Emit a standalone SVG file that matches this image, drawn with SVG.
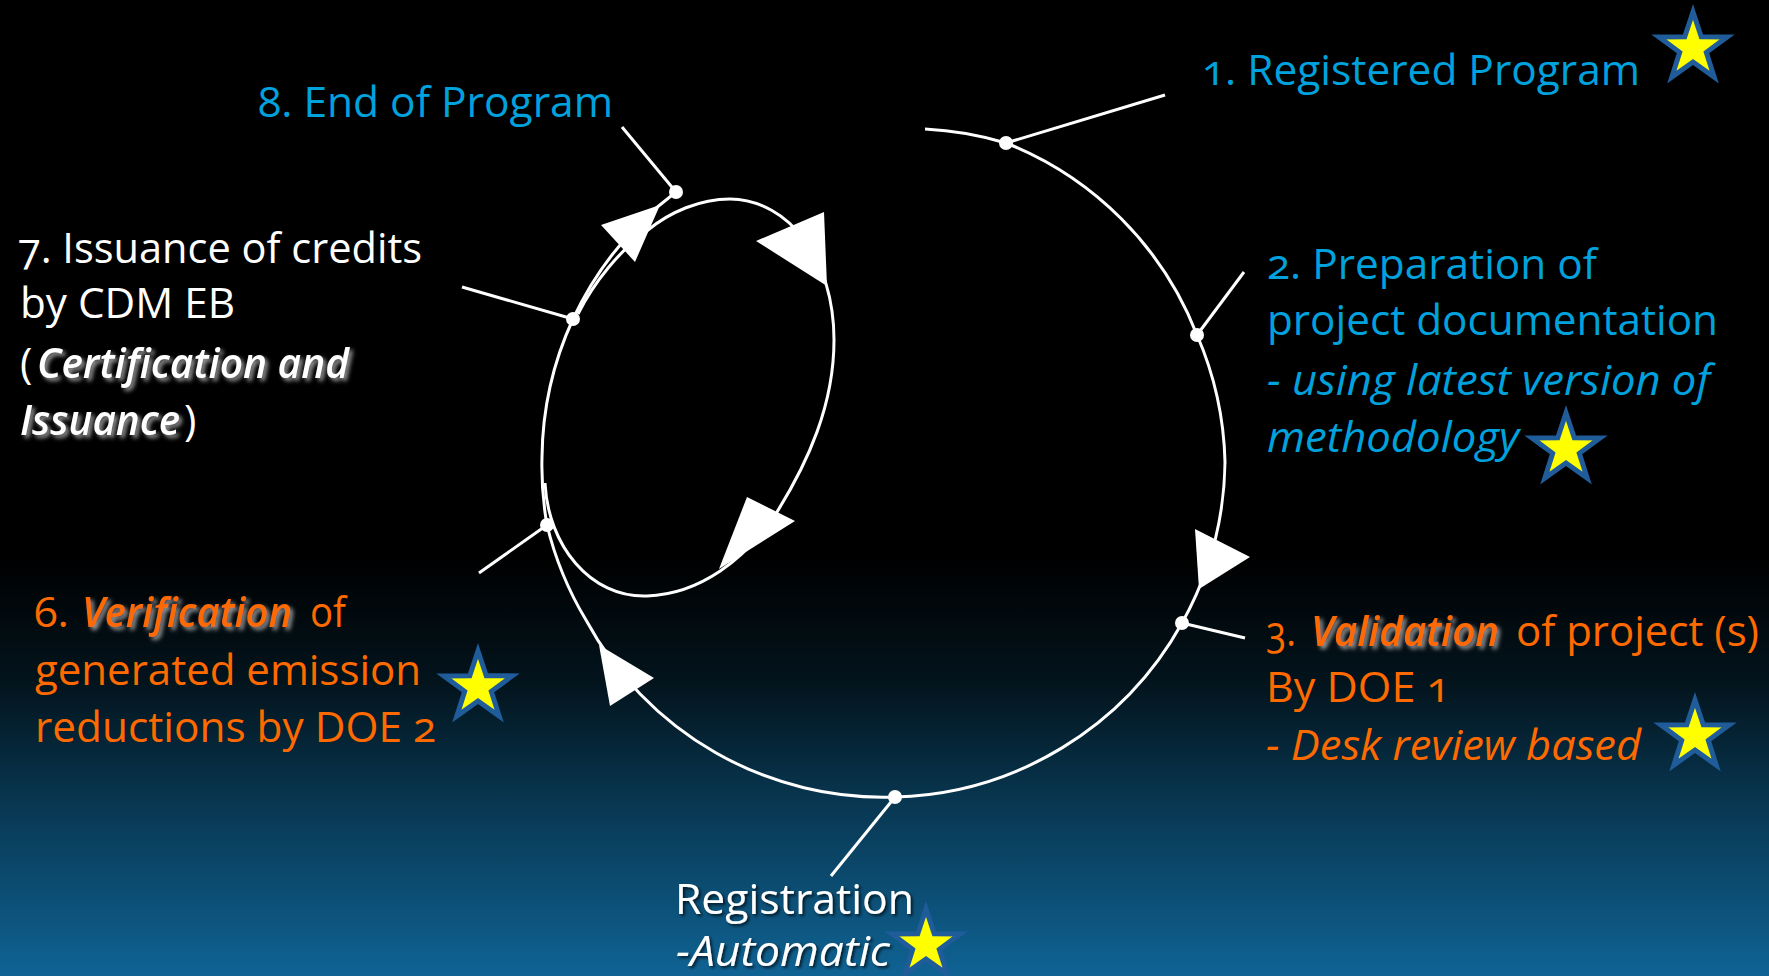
<svg xmlns="http://www.w3.org/2000/svg" xmlns:xlink="http://www.w3.org/1999/xlink" width="1769" height="976" viewBox="0 0 1769 976">
<defs>
<linearGradient id="bg" x1="0" y1="0" x2="0" y2="1">
<stop offset="0" stop-color="#000000"/>
<stop offset="0.57" stop-color="#000000"/>
<stop offset="0.7" stop-color="#03141d"/>
<stop offset="0.82" stop-color="#083650"/>
<stop offset="1" stop-color="#0f6394"/>
</linearGradient>
<filter id="glow" x="-10%" y="-30%" width="120%" height="160%">
<feDropShadow dx="3" dy="3" stdDeviation="2" flood-color="#9a9a9a" flood-opacity="1"/>
</filter>
<filter id="dark" x="-10%" y="-30%" width="120%" height="160%">
<feDropShadow dx="2" dy="2" stdDeviation="1.5" flood-color="#000000" flood-opacity="0.7"/>
</filter>
<polygon id="star" points="0,-36 8.23,-11.33 34.24,-11.12 13.31,4.33 21.16,29.12 0,14 -21.16,29.12 -13.31,4.33 -34.24,-11.12 -8.23,-11.33" fill="#ffff00" stroke="#1f5c99" stroke-width="5" stroke-linejoin="miter"/>
</defs>
<style>
text{font-family:"Open Sans","Noto Sans","DejaVu Sans",sans-serif;font-size:42px;font-variant-numeric:oldstyle-nums}
.cy{fill:#00a2de}
.or{fill:#ff6a00}
.wh{fill:#ffffff}
.it{font-style:italic}
.bi{font-style:italic;font-weight:600;filter:url(#glow)}
.curve{fill:none;stroke:#ffffff;stroke-width:3}
.lead{stroke:#ffffff;stroke-width:3;fill:none}
.dot{fill:#ffffff}
.head{fill:#ffffff}
</style>
<rect x="0" y="0" width="1769" height="976" fill="url(#bg)"/>

<g id="connectors">
<path class="curve" d="M925,129 A338,338 0 0 1 1006,143 A338,338 0 0 1 1197,335 A338,338 0 0 1 1225,462 A338,338 0 0 1 1182,623 A338,338 0 0 1 895,797 A338,338 0 0 1 586,620 A338,338 0 0 1 547,525 A338,338 0 0 1 542,457 A338,338 0 0 1 573,319 A338,338 0 0 1 676,192"/>
<path class="curve" d="M545,483 C548,545 590,598 647,596 C700,594 745,560 777,512 C808,462 834,405 834,340 C834,260 790,200 730,199 C700,199 670,212 648,230 C620,250 594,282 578,314"/>
<polygon class="head" points="1195,529 1250,557 1199,589"/>
<polygon class="head" points="599,645 654,678 610,706"/>
<polygon class="head" points="601,225 660,205 635,262"/>
<polygon class="head" points="756,241 824,212 827,286"/>
<polygon class="head" points="747,497 795,521 719,569"/>
<line class="lead" x1="1006" y1="143" x2="1165" y2="95"/>
<line class="lead" x1="1197" y1="335" x2="1244" y2="272"/>
<line class="lead" x1="1182" y1="623" x2="1245" y2="638"/>
<line class="lead" x1="895" y1="797" x2="831" y2="876"/>
<line class="lead" x1="547" y1="525" x2="479" y2="573"/>
<line class="lead" x1="573" y1="319" x2="462" y2="287"/>
<line class="lead" x1="676" y1="192" x2="622" y2="127"/>
<circle class="dot" cx="1006" cy="143" r="7"/>
<circle class="dot" cx="1197" cy="335" r="7"/>
<circle class="dot" cx="1182" cy="623" r="7"/>
<circle class="dot" cx="895" cy="797" r="7"/>
<circle class="dot" cx="547" cy="525" r="7"/>
<circle class="dot" cx="573" cy="319" r="7"/>
<circle class="dot" cx="676" cy="192" r="7"/>
</g>

<g id="node1">
<text class="cy" x="1202" y="85" textLength="438" lengthAdjust="spacingAndGlyphs">1. Registered Program</text>
<use xlink:href="#star" x="1693" y="48"/>
</g>

<g id="node2">
<text class="cy" x="1267" y="279" textLength="330" lengthAdjust="spacingAndGlyphs">2. Preparation of</text>
<text class="cy" x="1267" y="335" textLength="451" lengthAdjust="spacingAndGlyphs">project documentation</text>
<text class="cy it" x="1267" y="395" textLength="443" lengthAdjust="spacingAndGlyphs">- using latest version of</text>
<text class="cy it" x="1267" y="452" textLength="252" lengthAdjust="spacingAndGlyphs">methodology</text>
<use xlink:href="#star" x="1566" y="449"/>
</g>

<g id="node3">
<text class="or" x="1266" y="646" textLength="30" lengthAdjust="spacingAndGlyphs">3.</text>
<text class="or bi" x="1311" y="646" textLength="188" lengthAdjust="spacingAndGlyphs">Validation</text>
<text class="or" x="1516" y="646" textLength="243" lengthAdjust="spacingAndGlyphs">of project (s)</text>
<text class="or" x="1266" y="702" textLength="184" lengthAdjust="spacingAndGlyphs">By DOE 1</text>
<text class="or it" x="1266" y="760" textLength="375" lengthAdjust="spacingAndGlyphs">- Desk review based</text>
<use xlink:href="#star" x="1695" y="736"/>
</g>

<g id="node-registration">
<text class="wh" x="675" y="914" textLength="239" lengthAdjust="spacingAndGlyphs" filter="url(#dark)">Registration</text>
<text class="wh it" x="676" y="966" textLength="214" lengthAdjust="spacingAndGlyphs" filter="url(#dark)">-Automatic</text>
<use xlink:href="#star" x="926" y="945"/>
</g>

<g id="node6">
<text class="or" x="34" y="627" textLength="35" lengthAdjust="spacingAndGlyphs">6.</text>
<text class="or bi" x="82" y="627" textLength="210" lengthAdjust="spacingAndGlyphs">Verification</text>
<text class="or" x="310" y="627" textLength="36" lengthAdjust="spacingAndGlyphs">of</text>
<text class="or" x="35" y="685" textLength="386" lengthAdjust="spacingAndGlyphs">generated emission</text>
<text class="or" x="35" y="742" textLength="401" lengthAdjust="spacingAndGlyphs">reductions by DOE 2</text>
<use xlink:href="#star" x="478" y="687"/>
</g>

<g id="node7">
<text class="wh" x="18" y="263" textLength="404" lengthAdjust="spacingAndGlyphs">7. Issuance of credits</text>
<text class="wh" x="20" y="318" textLength="215" lengthAdjust="spacingAndGlyphs">by CDM EB</text>
<text class="wh" x="20" y="378">(</text>
<text class="wh bi" x="37" y="378" textLength="312" lengthAdjust="spacingAndGlyphs">Certification and</text>
<text class="wh bi" x="20" y="435" textLength="160" lengthAdjust="spacingAndGlyphs">Issuance</text>
<text class="wh" x="184" y="435">)</text>
</g>

<g id="node8">
<text class="cy" x="258" y="117" textLength="355" lengthAdjust="spacingAndGlyphs">8. End of Program</text>
</g>
</svg>
